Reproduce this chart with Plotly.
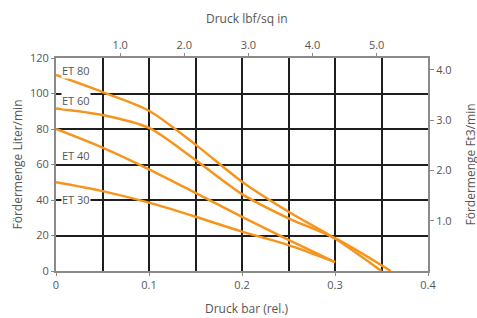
import plotly.graph_objects as go

pressure_bar = [0, 0.05, 0.1, 0.15, 0.2, 0.25, 0.3]
et80_x = [0, 0.05, 0.1, 0.15, 0.2, 0.25, 0.3, 0.35]
et80_y = [110.4, 100.8, 90.3, 71.2, 50.3, 33.4, 18.3, 0]
et60_x = [0, 0.05, 0.1, 0.15, 0.2, 0.25, 0.3, 0.36]
et60_y = [91.6, 87.9, 80.6, 62.5, 43.3, 29.7, 18.5, 0]
et40_y = [80, 69.5, 57.3, 44, 30.5, 17.5, 5]
et30_y = [50, 45, 38.5, 30.6, 22.2, 14.6, 5]

labels = ["ET 80", "ET 60", "ET 40", "ET 30"]
label_y = [113, 96, 65, 40.5]

x_ticks = [0, 0.1, 0.2, 0.3, 0.4]
x_ticktext = ["0", "0.1", "0.2", "0.3", "0.4"]
y_ticks = [0, 20, 40, 60, 80, 100, 120]
psi_ticks = [1.0, 2.0, 3.0, 4.0, 5.0]
ft3_ticks = [1.0, 2.0, 3.0, 4.0]

BAR_TO_PSI = 14.5038
LPM_TO_FT3 = 0.0353147

orange = "#F7941D"
txt = "#555555"
axis_gray = "#8a8a8a"
grid = "#1e1e1e"
font_family = "Open Sans, DejaVu Sans, sans-serif"

fig = go.Figure()
series = [(et80_x, et80_y), (et60_x, et60_y), (pressure_bar, et40_y), (pressure_bar, et30_y)]
for (xs, ys), name in zip(series, labels):
    fig.add_trace(go.Scatter(x=xs, y=ys, mode="lines", name=name,
                             line=dict(color=orange, width=2.5, shape="spline", smoothing=0.8),
                             showlegend=False))
fig.add_trace(go.Scatter(x=[0], y=[None], xaxis="x2", yaxis="y", showlegend=False, hoverinfo="skip"))
fig.add_trace(go.Scatter(x=[0], y=[None], xaxis="x", yaxis="y2", showlegend=False, hoverinfo="skip"))

for name, ly in zip(labels, label_y):
    fig.add_annotation(x=0.005, y=ly, text=name, showarrow=False, xanchor="left", yanchor="middle",
                       bgcolor="white", font=dict(size=11, color=txt, family=font_family), borderpad=0)

title_font = dict(size=12, color=txt, family=font_family)
fig.add_annotation(text="Druck lbf/sq in", xref="paper", yref="paper", x=0.513, y=1.0, yshift=40,
                   showarrow=False, xanchor="center", yanchor="middle", font=title_font)
fig.add_annotation(text="Druck bar (rel.)", xref="paper", yref="paper", x=0.513, y=0, yshift=-37,
                   showarrow=False, xanchor="center", yanchor="middle", font=title_font)
fig.add_annotation(text="Fördermenge Liter/min", xref="paper", yref="paper", x=0, xshift=-39, y=0.5,
                   showarrow=False, textangle=-90, xanchor="center", yanchor="middle", font=title_font)
fig.add_annotation(text="Fördermenge Ft3/min", xref="paper", yref="paper", x=1, xshift=42, y=0.5,
                   showarrow=False, textangle=-90, xanchor="center", yanchor="middle", font=title_font)

fig.update_layout(
    width=477, height=318,
    margin=dict(l=56, r=49, t=58, b=47),
    paper_bgcolor="white", plot_bgcolor="white",
    font=dict(family=font_family, size=11, color=txt),
    xaxis=dict(range=[0, 0.4], tickmode="array", tickvals=x_ticks, ticktext=x_ticktext,
               showgrid=True, gridcolor=grid, gridwidth=2, automargin=False,
               zeroline=False, showline=True, linecolor=axis_gray, linewidth=2,
               ticks="outside", ticklen=3, tickcolor=axis_gray,
               minor=dict(dtick=0.05, showgrid=True, gridcolor=grid, gridwidth=2, ticks="")),
    yaxis=dict(range=[0, 120], tickmode="array", tickvals=y_ticks, showgrid=True, gridcolor=grid,
               gridwidth=2, automargin=False,
               zeroline=False, showline=True, linecolor=axis_gray, linewidth=2,
               ticks="outside", ticklen=3, tickcolor=axis_gray),
    xaxis2=dict(range=[0, 0.4 * BAR_TO_PSI], overlaying="x", side="top", tickmode="array",
                tickvals=psi_ticks, tickformat=".1f", showgrid=False, zeroline=False, showline=True,
                automargin=False, linecolor=axis_gray, linewidth=2, ticks="outside", ticklen=3,
                tickcolor=axis_gray),
    yaxis2=dict(range=[0, 120 * LPM_TO_FT3], overlaying="y", side="right", tickmode="array",
                tickvals=ft3_ticks, tickformat=".1f", showgrid=False, zeroline=False, showline=True,
                automargin=False, linecolor=axis_gray, linewidth=2, ticks="outside", ticklen=4,
                tickcolor=axis_gray),
)

fig.write_html("out.html", config={"displayModeBar": False},
               post_script="document.body.style.margin='0';document.body.style.overflow='hidden';")
